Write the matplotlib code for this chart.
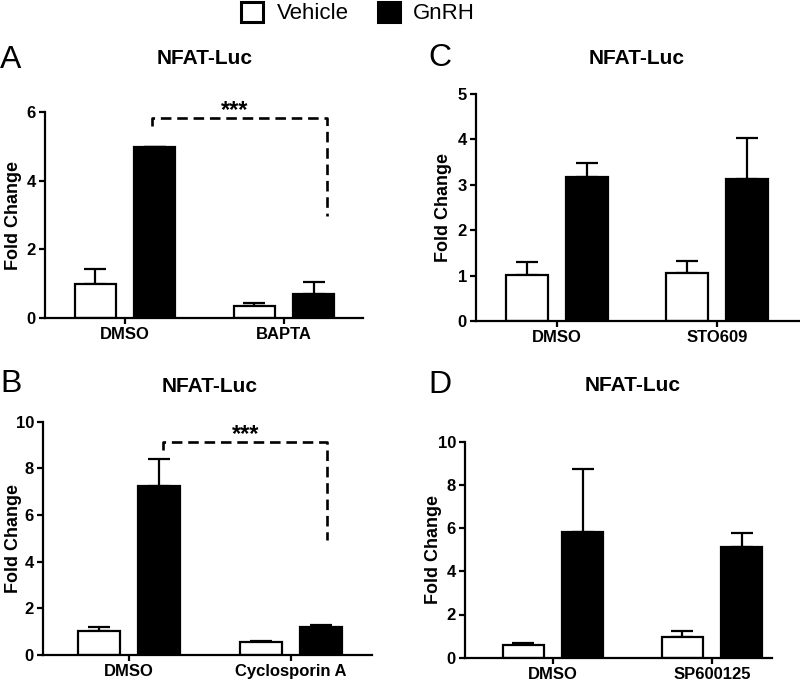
import matplotlib
matplotlib.use("Agg")
import matplotlib.pyplot as plt
from matplotlib.patches import Rectangle

plt.rcParams['font.family'] = ['Liberation Sans', 'DejaVu Sans']

W, H = 800, 683

# ---------------- data ----------------
series = ["Vehicle", "GnRH"]
title = "NFAT-Luc"

cats_A = ["DMSO", "BAPTA"]
veh_A = [1.00, 0.35]
veh_err_A = [0.43, 0.08]
gnrh_A = [4.99, 0.70]
gnrh_err_A = [0.0, 0.34]

cats_B = ["DMSO", "Cyclosporin A"]
veh_B = [1.03, 0.57]
veh_err_B = [0.16, 0.04]
gnrh_B = [7.24, 1.21]
gnrh_err_B = [1.15, 0.08]

cats_C = ["DMSO", "STO609"]
veh_C = [1.01, 1.05]
veh_err_C = [0.30, 0.28]
gnrh_C = [3.17, 3.12]
gnrh_err_C = [0.30, 0.90]

cats_D = ["DMSO", "SP600125"]
veh_D = [0.59, 0.97]
veh_err_D = [0.08, 0.27]
gnrh_D = [5.83, 5.11]
gnrh_err_D = [2.89, 0.65]

# significance brackets: (x_left, x_right, y_top, y_left_end, y_right_end, label x, label y)
sig_A = (0.17, 1.27, 5.83, 5.59, 2.97, 0.69, 6.05)
sig_B = (0.21, 1.22, 9.14, 8.79, 4.93, 0.72, 9.45)

panels = [
    # letter, cats, veh, veh_err, gnrh, gnrh_err, ymax, ticks, px box (l, r, top, bottom), xlim, sig,
    # title pos, letter pos, ylabel x (px)
    ("A", cats_A, veh_A, veh_err_A, gnrh_A, gnrh_err_A, 6, [0, 2, 4, 6],
     (45, 363, 112, 318), (-0.503, 1.497), sig_A, (205, 58), (11, 60), 14),
    ("B", cats_B, veh_B, veh_err_B, gnrh_B, gnrh_err_B, 10, [0, 2, 4, 6, 8, 10],
     (43, 372, 421.7, 655), (-0.53, 1.50), sig_B, (210, 387), (11, 384), 14),
    ("C", cats_C, veh_C, veh_err_C, gnrh_C, gnrh_err_C, 5, [0, 1, 2, 3, 4, 5],
     (476, 800, 94, 321), (-0.506, 1.52), None, (637, 58), (440, 58), 444),
    ("D", cats_D, veh_D, veh_err_D, gnrh_D, gnrh_err_D, 10, [0, 2, 4, 6, 8, 10],
     (465, 772, 441.7, 657.7), (-0.553, 1.377), None, (633, 385), (440, 385), 433),
]

fig = plt.figure(figsize=(W / 100, H / 100), dpi=100)

bw = 0.26
off = 0.187
lw = 1.6

for (letter, cats, veh, veh_err, gnrh, gnrh_err, ymax, ticks, box, xlim, sig, tpos, lpos, ylx) in panels:
    l, r, t, b = box
    ax = fig.add_axes([l / W, 1 - b / H, (r - l) / W, (b - t) / H])
    xs = list(range(len(cats)))
    xv = [x - off for x in xs]
    xg = [x + off for x in xs]
    ax.errorbar(xv, veh, yerr=[[0] * len(veh), veh_err], fmt='none', ecolor='black',
                elinewidth=lw, capsize=8, capthick=lw, zorder=1)
    ax.errorbar(xg, gnrh, yerr=[[0] * len(gnrh), gnrh_err], fmt='none', ecolor='black',
                elinewidth=lw, capsize=8, capthick=lw, zorder=1)
    ax.bar(xv, veh, width=bw, color='white', edgecolor='black', linewidth=lw, zorder=2)
    ax.bar(xg, gnrh, width=bw, color='black', edgecolor='black', linewidth=lw, zorder=2)
    ax.set_xlim(*xlim)
    ax.set_ylim(0, ymax)
    ax.set_yticks(ticks)
    ax.set_yticklabels([str(v) for v in ticks], fontsize=12, fontweight='bold')
    ax.set_xticks(xs)
    ax.set_xticklabels(cats, fontsize=12, fontweight='bold')
    ax.spines['top'].set_visible(False)
    ax.spines['right'].set_visible(False)
    ax.spines['left'].set_linewidth(lw)
    ax.spines['bottom'].set_linewidth(lw)
    ax.tick_params(axis='both', width=lw, length=4.5, direction='out', pad=2)
    ax.set_ylabel("Fold Change", fontsize=13, fontweight='bold')
    ax.yaxis.label.set_va('center')
    ax.yaxis.set_label_coords((ylx - l) / (r - l), 0.5)
    if sig is not None:
        x1, x2, yt, yl, yr, sx, sy = sig
        ax.plot([x1, x1, x2, x2], [yl, yt, yt, yr], color='black', lw=1.9,
                linestyle=(0, (4, 2.2)), clip_on=False, zorder=3)
        ax.text(sx, sy, "***", ha='center', va='center', fontsize=17, fontweight='bold')
    fig.text(tpos[0] / W, 1 - tpos[1] / H, title, ha='center', va='center',
             fontsize=15, fontweight='bold')
    fig.text(lpos[0] / W, 1 - lpos[1] / H, letter, ha='center', va='center',
             fontsize=23)

# legend
handles = [Rectangle((0, 0), 1, 1, facecolor='white', edgecolor='black', linewidth=2.2),
           Rectangle((0, 0), 1, 1, facecolor='black', edgecolor='black', linewidth=2.2)]
fig.legend(handles, series, loc='center', bbox_to_anchor=(358 / W, 1 - 13 / H),
           ncol=2, frameon=False, fontsize=16, handlelength=1.0, handleheight=1.0,
           handletextpad=0.6, columnspacing=1.3, borderpad=0)

fig.savefig("out.png", dpi=100)
